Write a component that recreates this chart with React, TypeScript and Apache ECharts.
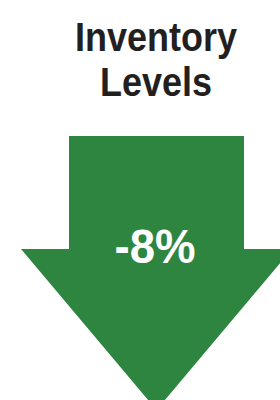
import React, { useEffect, useRef } from "react";
import * as echarts from "echarts";

const titleLines: string[] = ["Inventory", "Levels"];
const changeValues: number[] = [-8];

export default function App() {
  const ref = useRef<HTMLDivElement>(null);
  useEffect(() => {
    if (!ref.current) return;
    const chart = echarts.init(ref.current, null, { renderer: "svg" });
    const font = "'Liberation Sans', Arial, sans-serif";
    const cx = 156;
    chart.setOption({
      animation: false,
      backgroundColor: "#ffffff",
      graphic: [
        {
          type: "polygon",
          shape: {
            points: [
              [69, 136],
              [244, 136],
              [244, 249],
              [292, 249],
              [156.5, 410],
              [21, 249],
              [69, 249],
            ],
          },
          style: { fill: "#2E8540" },
        },
        ...titleLines.map((t, i) => ({
          type: "text",
          x: cx,
          y: 37.5 + i * 45,
          scaleX: 0.9,
          style: {
            text: t,
            fill: "#231F20",
            font: `bold 40px ${font}`,
            textAlign: "center",
            textVerticalAlign: "middle",
          },
        })),
        {
          type: "text",
          x: 155,
          y: 247,
          scaleX: 0.95,
          style: {
            text: `${changeValues[0]}%`,
            fill: "#ffffff",
            font: `bold 48px ${font}`,
            textAlign: "center",
            textVerticalAlign: "middle",
          },
        },
      ],
    });
    return () => chart.dispose();
  }, []);
  return (
    <div
      ref={ref}
      style={{ position: "fixed", left: 0, top: 0, width: 280, height: 400 }}
    />
  );
}
